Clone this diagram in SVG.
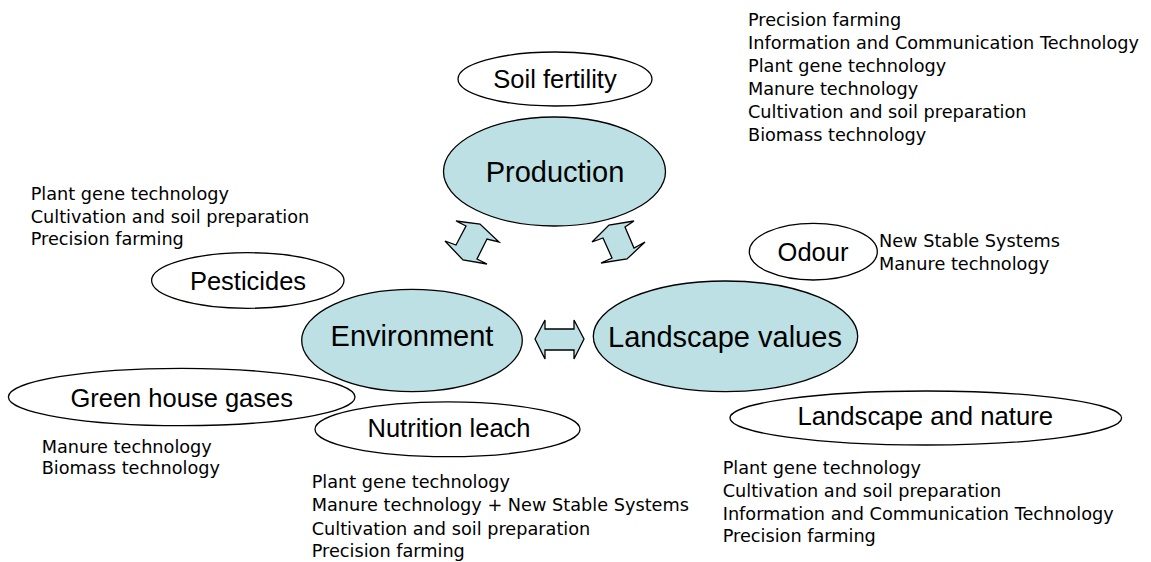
<svg xmlns="http://www.w3.org/2000/svg" width="1151" height="562" viewBox="0 0 1151 562">
<style>
.main{fill:#BCE0E3;stroke:#000;stroke-width:1.3}
.sub{fill:#fff;stroke:#000;stroke-width:1.3}
.arr{fill:#BCE0E3;stroke:#000;stroke-width:1.3;stroke-linejoin:miter}
.big{font-family:"Liberation Sans",Arial,sans-serif;font-size:29px;fill:#000;text-anchor:middle}
.lbl{font-family:"Liberation Sans",Arial,sans-serif;font-size:25.5px;fill:#000;text-anchor:middle}
.note{font-family:"DejaVu Sans",sans-serif;font-size:17.7px;fill:#000}
</style>
<rect width="1151" height="562" fill="#fff"/>
<g id="connectors">
<polygon class="arr" points="456,221 480,224 499,242 487,239 477,259 487,264 463,260 445,241 456,245 466,226"/>
<polygon class="arr" points="592,242 609,225 634,221 625,227 634,248 645,242 627,259 601,263 612,258 603,238"/>
<polygon class="arr" points="535,339 545,320 545,329 574,329 574,320 584,339 574,359 574,350 545,350 545,359"/>
</g>
<g id="production">
<ellipse class="main" cx="554.5" cy="171.5" rx="111" ry="54.5"/>
<text class="big" x="555" y="181.5">Production</text>
</g>
<g id="environment">
<ellipse class="main" cx="412" cy="340.5" rx="110.3" ry="51.2"/>
<text class="big" x="412" y="346">Environment</text>
</g>
<g id="landscape-values">
<ellipse class="main" cx="725.5" cy="336.3" rx="132.2" ry="55.3"/>
<text class="big" x="725" y="346.5">Landscape values</text>
</g>
<g id="soil-fertility">
<ellipse class="sub" cx="555" cy="79" rx="97" ry="27"/>
<text class="lbl" x="555" y="88">Soil fertility</text>
</g>
<g id="pesticides">
<ellipse class="sub" cx="247.8" cy="280.5" rx="96.2" ry="27.8"/>
<text class="lbl" x="248" y="290">Pesticides</text>
</g>
<g id="odour">
<ellipse class="sub" cx="813.3" cy="251.7" rx="64" ry="28.3"/>
<text class="lbl" x="813" y="260.5">Odour</text>
</g>
<g id="green-house-gases">
<ellipse class="sub" cx="181.7" cy="397" rx="173.3" ry="28.7"/>
<text class="lbl" x="181.7" y="407.3">Green house gases</text>
</g>
<g id="nutrition-leach">
<ellipse class="sub" cx="447.5" cy="429.3" rx="132.5" ry="27.4"/>
<text class="lbl" x="449" y="436.7">Nutrition leach</text>
</g>
<g id="landscape-nature">
<ellipse class="sub" cx="925.8" cy="418" rx="195.8" ry="27"/>
<text class="lbl" x="925.3" y="425" style="font-size:25.7px">Landscape and nature</text>
</g>
<g id="notes-production">
<text class="note" x="748" y="26">Precision farming</text>
<text class="note" x="748" y="49">Information and Communication Technology</text>
<text class="note" x="748" y="72">Plant gene technology</text>
<text class="note" x="748" y="95">Manure technology</text>
<text class="note" x="748" y="118">Cultivation and soil preparation</text>
<text class="note" x="748" y="141">Biomass technology</text>
</g>
<g id="notes-pesticides">
<text class="note" x="30.7" y="200">Plant gene technology</text>
<text class="note" x="30.7" y="223">Cultivation and soil preparation</text>
<text class="note" x="30.7" y="245">Precision farming</text>
</g>
<g id="notes-odour">
<text class="note" x="879" y="247">New Stable Systems</text>
<text class="note" x="879" y="270">Manure technology</text>
</g>
<g id="notes-ghg">
<text class="note" x="41.7" y="452.5">Manure technology</text>
<text class="note" x="41.7" y="474">Biomass technology</text>
</g>
<g id="notes-nutrition">
<text class="note" x="311.7" y="488">Plant gene technology</text>
<text class="note" x="311.7" y="511">Manure technology + New Stable Systems</text>
<text class="note" x="311.7" y="534.5">Cultivation and soil preparation</text>
<text class="note" x="311.7" y="557">Precision farming</text>
</g>
<g id="notes-landscape">
<text class="note" x="722.7" y="474">Plant gene technology</text>
<text class="note" x="722.7" y="496.5">Cultivation and soil preparation</text>
<text class="note" x="722.7" y="519.5">Information and Communication Technology</text>
<text class="note" x="722.7" y="541.5">Precision farming</text>
</g>
</svg>
